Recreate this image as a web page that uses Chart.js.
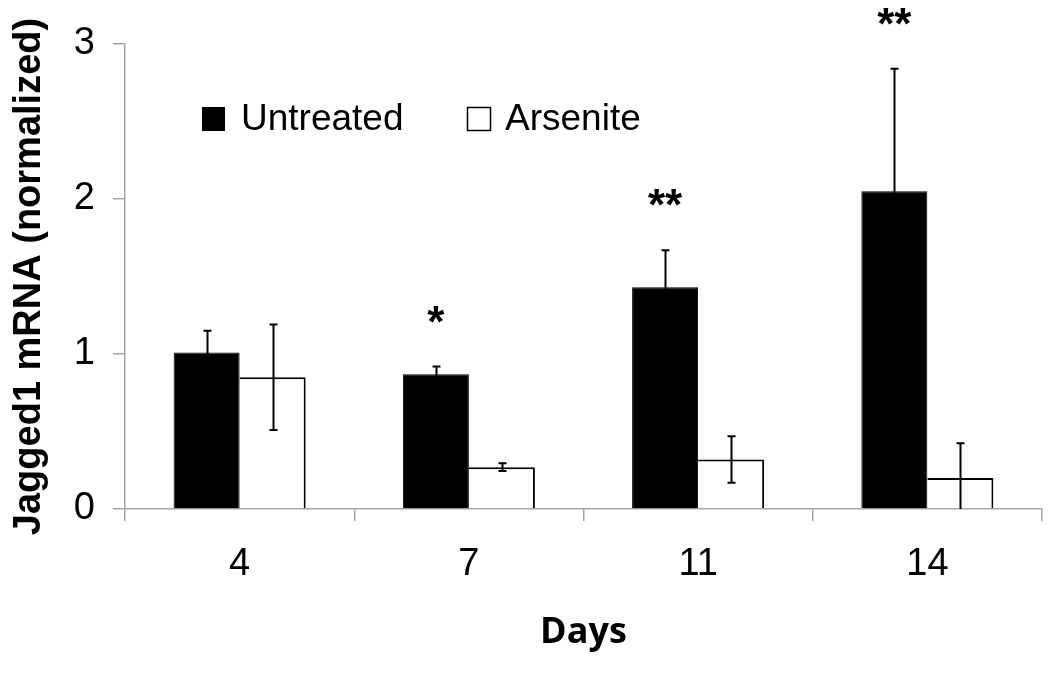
<!DOCTYPE html>
<html>
<head>
<meta charset="utf-8">
<script src="https://cdn.jsdelivr.net/npm/chart.js@4.4.1/dist/chart.umd.min.js"></script>
<style>
  html, body { margin: 0; padding: 0; background: #fff; }
  #wrap { width: 1050px; height: 677px; }
</style>
</head>
<body>
<div id="wrap"><canvas id="jaggedChart" width="1050" height="677"></canvas></div>
<script>
// data
const days = ["4", "7", "11", "14"];
const untreated = [1.01, 0.87, 1.43, 2.05];
const untreatedErr = [0.14, 0.05, 0.24, 0.79];
const arsenite = [0.85, 0.27, 0.32, 0.20];
const arseniteErr = [0.34, 0.025, 0.15, 0.225];
const stars = ["", "*", "**", "**"];
const yTicks = [0, 1, 2, 3];

const axisGray = "#a6a6a6";

// error bars, asterisks and the legend are drawn on top of the bars
const extrasPlugin = {
  id: "extras",
  afterDatasetsDraw(chart) {
    const ctx = chart.ctx;
    const y = chart.scales.y;
    const errs = [untreatedErr, arseniteErr];
    ctx.save();
    ctx.strokeStyle = "#000";
    ctx.lineWidth = 2;
    chart.data.datasets.forEach((ds, di) => {
      const meta = chart.getDatasetMeta(di);
      meta.data.forEach((bar, i) => {
        const v = ds.data[i];
        const e = errs[di][i];
        const top = y.getPixelForValue(v + e);
        const bot = y.getPixelForValue(Math.max(0, v - e));
        const x = Math.round(bar.x) + 0.5;
        ctx.beginPath();
        ctx.moveTo(x, top); ctx.lineTo(x, bot);
        ctx.moveTo(x - 4, top); ctx.lineTo(x + 4, top);
        if (v - e > 0) { ctx.moveTo(x - 4, bot); ctx.lineTo(x + 4, bot); }
        ctx.stroke();
      });
    });

    // significance marks above the untreated bars
    ctx.fillStyle = "#000";
    ctx.font = "bold 44px 'Liberation Sans', Arial, sans-serif";
    ctx.textAlign = "center";
    ctx.textBaseline = "middle";
    const m0 = chart.getDatasetMeta(0);
    stars.forEach((s, i) => {
      if (!s) return;
      const top = y.getPixelForValue(untreated[i] + untreatedErr[i]);
      ctx.fillText(s, m0.data[i].x, top - 42);
    });

    // legend
    ctx.font = "37px 'Liberation Sans', Arial, sans-serif";
    ctx.textAlign = "left";
    ctx.fillRect(202, 107, 23, 24);
    ctx.fillText("Untreated", 241, 120);
    ctx.lineWidth = 1.5;
    ctx.strokeRect(467.5, 107.5, 23, 23);
    ctx.fillText("Arsenite", 505, 120);
    ctx.restore();
  }
};

new Chart(document.getElementById("jaggedChart").getContext("2d"), {
  type: "bar",
  data: {
    labels: days,
    datasets: [
      {
        label: "Untreated",
        data: untreated,
        backgroundColor: "#000",
        borderColor: "#000",
        borderWidth: 1,
        categoryPercentage: 0.576,
        barPercentage: 1,
      },
      {
        label: "Arsenite",
        data: arsenite,
        backgroundColor: "#fff",
        borderColor: "#000",
        borderWidth: { top: 2, right: 2, left: 0, bottom: 0 },
        categoryPercentage: 0.576,
        barPercentage: 1,
      },
    ],
  },
  options: {
    responsive: false,
    animation: false,
    layout: { padding: { top: 44, right: 8, left: 0, bottom: 0 } },
    plugins: {
      legend: { display: false },
      tooltip: { enabled: false },
    },
    scales: {
      x: {
        grid: {
          display: true,
          drawOnChartArea: false,
          offset: true,
          tickLength: 12,
          color: axisGray,
          lineWidth: 1.5,
        },
        border: { color: axisGray, width: 1.5 },
        ticks: {
          color: "#000",
          padding: 21,
          font: { family: "'Liberation Sans', Arial, sans-serif", size: 38 },
        },
        title: {
          display: true,
          text: "Days",
          color: "#000",
          padding: { top: 0, bottom: 23 },
          font: { family: "'Open Sans', sans-serif", size: 36, weight: "bold" },
        },
        afterFit(scale) { scale.height = 168; },
      },
      y: {
        min: 0,
        max: 3,
        afterBuildTicks(scale) { scale.ticks = yTicks.map(v => ({ value: v })); },
        grid: {
          drawOnChartArea: false,
          tickLength: 12,
          color: axisGray,
          lineWidth: 1.5,
        },
        border: { color: axisGray, width: 1.5 },
        ticks: {
          color: "#000",
          padding: 18,
          font: { family: "'Liberation Sans', Arial, sans-serif", size: 38 },
        },
        title: {
          display: true,
          text: "Jagged1 mRNA (normalized)",
          color: "#000",
          padding: { top: 7, bottom: 0 },
          font: { family: "'Liberation Sans', Arial, sans-serif", size: 38, weight: "bold" },
        },
        afterFit(scale) { scale.width = 125; },
      },
    },
  },
  plugins: [extrasPlugin],
});
</script>
</body>
</html>
